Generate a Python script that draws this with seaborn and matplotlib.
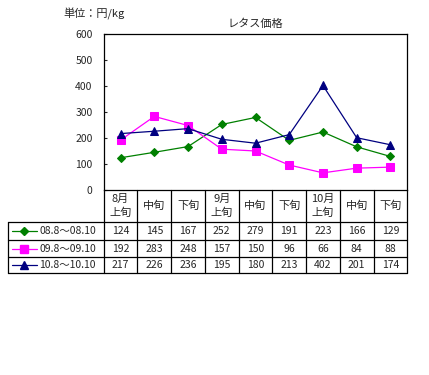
import numpy as np
import pandas as pd
import matplotlib
matplotlib.use("Agg")
import matplotlib.pyplot as plt
import seaborn as sns

sns.set_style("white")
plt.rcParams["font.family"] = ["Noto Sans CJK JP", "DejaVu Sans"]

# donnees
periods = ["8月\n上旬", "中旬", "下旬", "9月\n上旬", "中旬", "下旬", "10月\n上旬", "中旬", "下旬"]
series_names = ["08.8～08.10", "09.8～09.10", "10.8～10.10"]
v08 = [124, 145, 167, 252, 279, 191, 223, 166, 129]
v09 = [192, 283, 248, 157, 150, 96, 66, 84, 88]
v10 = [217, 226, 236, 195, 180, 213, 402, 201, 174]
y_ticks = [0, 100, 200, 300, 400, 500, 600]

colors = ["#008000", "#FF00FF", "#000080"]
markers = ["D", "s", "^"]
msizes = [4.2, 5.2, 5.6]
values = [v08, v09, v10]

W, H = 429, 375
fig = plt.figure(figsize=(W / 100, H / 100), dpi=100)

# zone du graphique en pixels
left, right, top, bottom = 103.7, 407.3, 34, 190
ax = fig.add_axes([left / W, 1 - bottom / H, (right - left) / W, (bottom - top) / H])

x = np.arange(len(periods))
for name, vals, c, m, ms in zip(series_names, values, colors, markers, msizes):
    sns.lineplot(x=x, y=vals, ax=ax, color=c, marker=m, markersize=ms,
                 markeredgecolor=c, linewidth=0.9, label=name)
ax.get_legend().remove()
ax.set_xlim(-0.5, len(periods) - 0.5)
ax.set_ylim(0, 600)
ax.set_yticks(y_ticks)
ax.set_xticks([])
ax.tick_params(axis="y", direction="in", length=2.5, width=0.8, pad=8, labelsize=7.5, left=True)
for s in ax.spines.values():
    s.set_color("black")
    s.set_linewidth(0.9)
ax.set_title("レタス価格", fontsize=8, pad=5)

# overlay pour le tableau
tab = fig.add_axes([0, 0, 1, 1], facecolor="none")
tab.set_xlim(0, W)
tab.set_ylim(H, 0)
tab.axis("off")

tab.text(63, 14, "単位：円/kg", fontsize=8, va="center", ha="left")

col_w = (right - left) / len(periods)
row_edges = [bottom, 221.7, 240, 257.3, 273.3]
lw = 0.9
# lignes horizontales
tab.plot([left, right], [row_edges[1], row_edges[1]], color="black", lw=lw)
tab.plot([8.3, left], [row_edges[1], row_edges[1]], color="black", lw=lw)
for yy in row_edges[2:]:
    tab.plot([8.3, right], [yy, yy], color="black", lw=lw)
# lignes verticales
for i in range(len(periods) + 1):
    xx = left + i * col_w
    tab.plot([xx, xx], [row_edges[0], row_edges[-1]], color="black", lw=lw)
tab.plot([8.3, 8.3], [row_edges[1], row_edges[-1]], color="black", lw=lw)

# en-tetes
for i, p in enumerate(periods):
    cx = left + (i + 0.5) * col_w
    tab.text(cx, (row_edges[0] + row_edges[1]) / 2, p, fontsize=8, ha="center",
             va="center", linespacing=1.4)

# lignes de donnees
for r, (name, vals, c, m, ms) in enumerate(zip(series_names, values, colors, markers, msizes)):
    cy = (row_edges[r + 1] + row_edges[r + 2]) / 2
    tab.plot([11.7, 36.7], [cy, cy], color=c, lw=0.9)
    tab.plot([24.2], [cy], marker=m, color=c, markersize=ms, markeredgecolor=c)
    tab.text(39.5, cy, name, fontsize=7.5, ha="left", va="center")
    for i, v in enumerate(vals):
        cx = left + (i + 0.5) * col_w
        tab.text(cx, cy, str(v), fontsize=7.5, ha="center", va="center")

fig.savefig("out.png", dpi=100)
